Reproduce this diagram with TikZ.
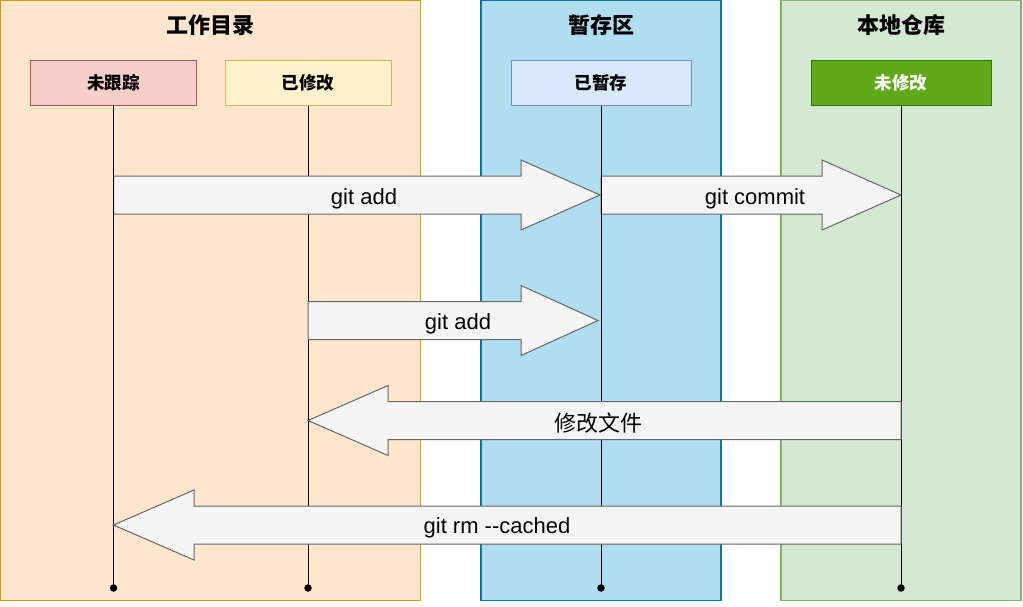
\documentclass[tikz,border=0pt]{standalone}
\usepackage{fontspec}
\setmainfont{Liberation Sans}
\newfontfamily\cjk{Noto Sans CJK SC}
\definecolor{wdfill}{HTML}{FFE6CC}\definecolor{wddraw}{HTML}{D79B00}
\definecolor{sgfill}{HTML}{B1DDF0}\definecolor{sgdraw}{HTML}{10739E}
\definecolor{rpfill}{HTML}{D5E8D4}\definecolor{rpdraw}{HTML}{82B366}
\definecolor{utfill}{HTML}{F8CECC}\definecolor{utdraw}{HTML}{B85450}
\definecolor{mdfill}{HTML}{FFF2CC}\definecolor{mddraw}{HTML}{D6B656}
\definecolor{stfill}{HTML}{DAE8FC}\definecolor{stdraw}{HTML}{6C8EBF}
\definecolor{unfill}{HTML}{60A917}\definecolor{undraw}{HTML}{2D7600}
\definecolor{arfill}{HTML}{F5F5F5}\definecolor{ardraw}{HTML}{666666}
\newcommand\fatarrow[4]{% start x, tip x, center y, head base x
  \draw[fatarr] (#1,#3-19) -- (#4,#3-19) -- (#4,#3-35) -- (#2,#3) -- (#4,#3+35) -- (#4,#3+19) -- (#1,#3+19) -- cycle;}
\begin{document}
\begin{tikzpicture}[x=1pt,y=-1pt,
  lane/.style={draw, line width=1.2pt, minimum height=600pt, inner sep=0pt},
  lanetitle/.style={font=\cjk\bfseries\fontsize{22}{26}\selectfont, inner sep=0pt},
  statebox/.style={draw, line width=1pt, minimum width=166pt, minimum height=45pt, inner sep=0pt, font=\cjk\bfseries\fontsize{17.5}{21}\selectfont},
  lifeline/.style={draw=black, line width=1pt},
  enddot/.style={circle, fill=black, inner sep=0pt, minimum size=7.5pt},
  fatarr/.style={fill=arfill, draw=ardraw, line width=1pt, line join=miter},
  lbl/.style={inner sep=0pt, font=\fontsize{22}{26}\selectfont},
  cjklbl/.style={inner sep=0pt, font=\cjk\fontsize{22}{26}\selectfont}]
\useasboundingbox (0,0) rectangle (1023,606);
% lanes
\node[lane, fill=wdfill, draw=wddraw, minimum width=420pt] (wd) at (210.5,300.5) {};
\node[lane, fill=sgfill, draw=sgdraw, minimum width=240pt] (sg) at (601,300.5) {};
\node[lane, fill=rpfill, draw=rpdraw, minimum width=240pt] (rp) at (901,300.5) {};
\node[lanetitle] (wdt) at (210.5,25) {工作目录};
\node[lanetitle] (sgt) at (601,25) {暂存区};
\node[lanetitle] (rpt) at (901,25) {本地仓库};
% state boxes
\node[statebox, fill=utfill, draw=utdraw] (ut) at (113.5,83) {未跟踪};
\node[statebox, fill=mdfill, draw=mddraw] (md) at (308,83) {已修改};
\node[statebox, fill=stfill, draw=stdraw, minimum width=180pt] (st) at (601,83) {已暂存};
\node[statebox, fill=unfill, draw=undraw, minimum width=180pt, text=white] (un) at (901,83) {未修改};
% lifeline ends
\node[enddot] (ute) at (113.5,588) {};
\node[enddot] (mde) at (308,588) {};
\node[enddot] (ste) at (601,588) {};
\node[enddot] (une) at (901,588) {};
% lifeline of modified (under git add)
\draw[lifeline] (md.south) -- (mde.center);
% arrows
\fatarrow{113.5}{600}{195}{521}
\fatarrow{601}{901}{195}{822}
\fatarrow{308}{598}{320.5}{521}
\draw[lifeline] (ut.south) -- (ute.center);
\draw[lifeline] (st.south) -- (ste.center);
\draw[lifeline] (un.south) -- (une.center);
\fatarrow{901}{308}{420.5}{388}
\fatarrow{901}{113.5}{525}{194}
% labels
\node[lbl] (a1) at (364,198.5) {git add};
\node[lbl] (a2) at (755,198.5) {git commit};
\node[lbl] (a3) at (458,323.5) {git add};
\node[cjklbl] (a4) at (598,423) {修改文件};
\node[lbl] (a5) at (497,528) {git rm -{}-cached};
\end{tikzpicture}
\end{document}
